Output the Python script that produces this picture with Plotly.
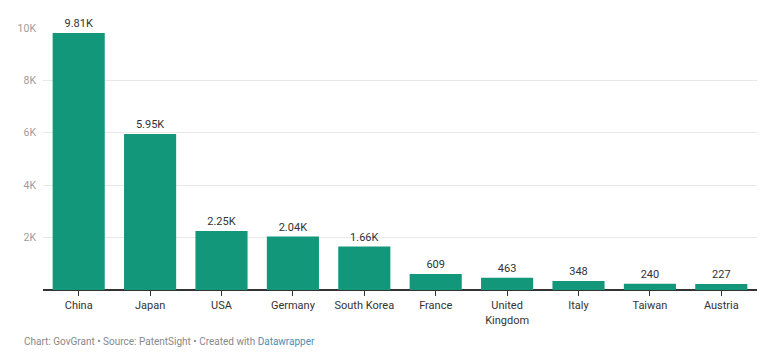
import plotly.graph_objects as go

countries = ["China", "Japan", "USA", "Germany", "South Korea", "France",
             "United Kingdom", "Italy", "Taiwan", "Austria"]
tick_labels = ["China", "Japan", "USA", "Germany", "South Korea", "France",
               "United<br>Kingdom", "Italy", "Taiwan", "Austria"]
values = [9810, 5950, 2250, 2040, 1660, 609, 463, 348, 240, 227]
value_labels = ["9.81K", "5.95K", "2.25K", "2.04K", "1.66K", "609", "463", "348", "240", "227"]
y_ticks = [2000, 4000, 6000, 8000, 10000]
y_tick_labels = ["2K", "4K", "6K", "8K", "10K"]

fig = go.Figure(go.Bar(
    x=countries, y=values,
    marker=dict(color="#13977a", line=dict(width=0)),
    text=value_labels, textposition="outside",
    textfont=dict(family="Roboto", size=11, color="#333333"),
    cliponaxis=False,
))

fig.update_layout(
    width=780, height=361,
    margin=dict(l=43, r=23, t=28, b=71),
    paper_bgcolor="white", plot_bgcolor="white",
    bargap=0.27,
    showlegend=False,
    font=dict(family="Roboto", size=11, color="#333333"),
    xaxis=dict(
        tickmode="array", tickvals=countries, ticktext=tick_labels,
        ticks="outside", ticklen=5, tickcolor="#333333",
        showline=False, showgrid=False, automargin=False,
        tickfont=dict(family="Roboto", size=11, color="#333333"),
    ),
    yaxis=dict(
        range=[0, 10000], tickmode="array", tickvals=y_ticks, ticktext=y_tick_labels,
        showgrid=True, gridcolor="#e8e8e8", gridwidth=1,
        zeroline=True, zerolinecolor="#333333", zerolinewidth=1.5,
        showline=False, ticks="", ticklabelstandoff=6, automargin=False,
        tickfont=dict(family="Roboto", size=10.5, color="#9c9c9c"),
    ),
)

fig.add_annotation(
    xref="paper", yref="paper", x=-0.029, y=-0.195, xanchor="left", yanchor="middle",
    showarrow=False,
    text="Chart: GovGrant • Source: PatentSight • Created with <span style='color:#4a8fb5'>Datawrapper</span>",
    font=dict(family="Roboto", size=10, color="#888888"),
)

fig.write_html("out.html", config={"displayModeBar": False},
               post_script="document.body.style.margin='0';")
